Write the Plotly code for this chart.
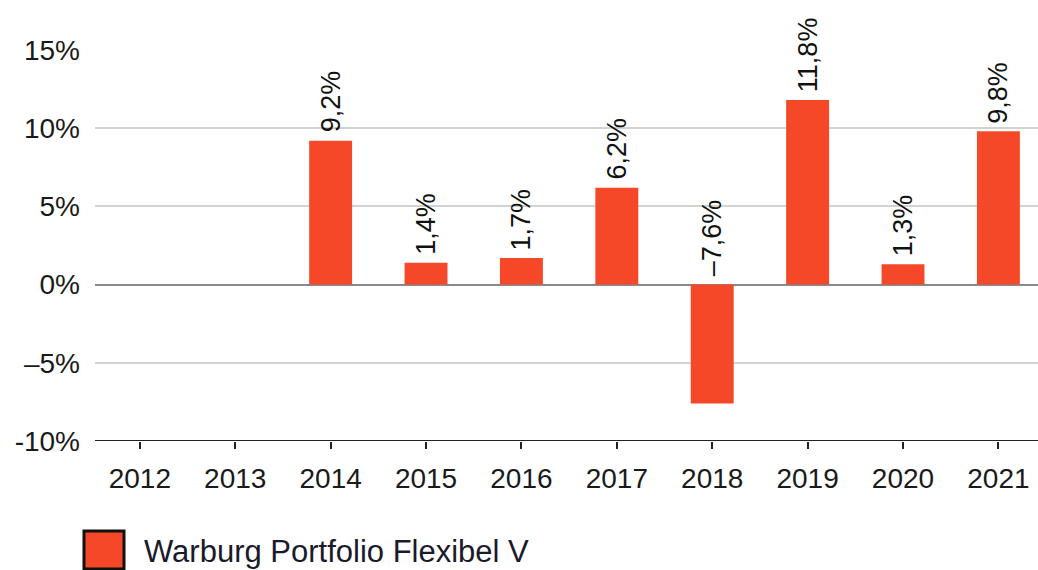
import plotly.graph_objects as go

years = ["2012", "2013", "2014", "2015", "2016", "2017", "2018", "2019", "2020", "2021"]
returns = [None, None, 9.2, 1.4, 1.7, 6.2, -7.6, 11.8, 1.3, 9.8]
labels = ["", "", "9,2%", "1,4%", "1,7%", "6,2%", "–7,6%", "11,8%", "1,3%", "9,8%"]
y_ticks = [-10, -5, 0, 5, 10, 15]
y_ticktext = ["-10%", "–5%", "0%", "5%", "10%", "15%"]
series_name = "Warburg Portfolio Flexibel V"

BAR = "#F44828"
FONT = "Liberation Sans, Arial, sans-serif"

fig = go.Figure()
fig.add_trace(go.Bar(
    x=years, y=returns, name=series_name,
    marker=dict(color=BAR, line=dict(width=0)),
    width=0.45,
    showlegend=False,
))

# rotated value labels (category index used for x on a category axis)
for i, (v, t) in enumerate(zip(returns, labels)):
    if v is None:
        continue
    fig.add_annotation(
        x=i, y=max(v, 0), text=t, textangle=-90, showarrow=False,
        yanchor="bottom", xanchor="center", yshift=6,
        font=dict(size=27, color="#111", family=FONT),
    )

fig.update_layout(
    width=1038, height=570,
    margin=dict(l=95, r=0, t=50, b=129),
    paper_bgcolor="white", plot_bgcolor="white",
    font=dict(family=FONT, color="#1a1a1a", size=28),
    xaxis=dict(
        type="category", range=[-0.47, 9.415],
        showgrid=False, showline=False,
        ticks="outside", ticklen=7, tickwidth=2, tickcolor="#222",
        tickfont=dict(size=28, color="#1a1a1a"),
        ticklabelstandoff=5,
    ),
    yaxis=dict(
        range=[-10, 15], tickvals=y_ticks, ticktext=y_ticktext,
        showgrid=True, gridcolor="#d2d2d2", gridwidth=1.5,
        zeroline=True, zerolinecolor="#8a8a8a", zerolinewidth=2,
        showline=False, ticks="",
        tickfont=dict(size=28, color="#1a1a1a"),
        ticklabelstandoff=14,
    ),
)

# bottom axis line at -10
fig.add_shape(type="line", xref="paper", yref="y", x0=0, x1=1, y0=-10, y1=-10,
              line=dict(color="#222", width=2))

# legend swatch and label
fig.add_shape(type="rect", xref="paper", yref="paper",
              x0=(84 - 95) / 943, x1=(124 - 95) / 943,
              y0=-(531 - 441) / 391, y1=-(569 - 441) / 391,
              fillcolor=BAR, line=dict(color="#111", width=3))
fig.add_annotation(xref="paper", yref="paper", x=(142 - 95) / 943, y=-(551 - 441) / 391,
                   xanchor="left", yanchor="middle", showarrow=False, text=series_name,
                   font=dict(size=31, color="#1a1a2a", family=FONT))

fig.write_html("out.html")
